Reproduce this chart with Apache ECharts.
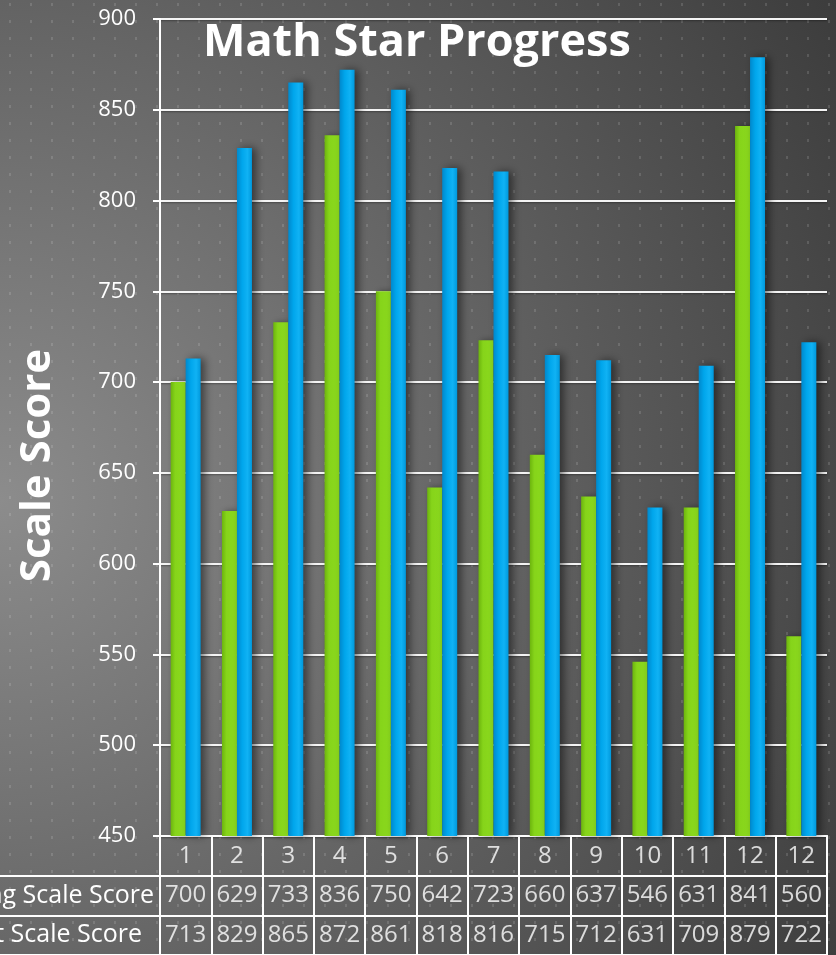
<!DOCTYPE html>
<html>
<head>
<meta charset="utf-8">
<script src="https://cdn.jsdelivr.net/npm/echarts@6/dist/echarts.min.js"></script>
<style>
html,body{margin:0;padding:0;background:#606060;}
#chart{width:836px;height:955px;}
</style>
</head>
<body>
<div id="chart"></div>
<script>
// ---- data ----
const categories = ['1','2','3','4','5','6','7','8','9','10','11','12','12'];
const beginningScores = [700,629,733,836,750,642,723,660,637,546,631,841,560];
const currentScores = [713,829,865,872,861,818,816,715,712,631,709,879,722];
const seriesNames = ['Beginning Scale Score', 'Current Scale Score'];
const tableRowLabels = ['', 'Beginning Scale Score', 'Current Scale Score'];
const yMin = 450, yMax = 900, yStep = 50;
const chartTitle = 'Math Star Progress';
const yAxisTitle = 'Scale Score';

// ---- layout ----
const W = 836, H = 955;
const plotLeft = 160, plotRight = 9, plotTop = 19, plotBottomY = 836;
const tableTop = plotBottomY, tableH = H - plotBottomY, rowH = tableH / 3;
const FONT = '"Open Sans", "Noto Sans", sans-serif';
const TABLE_FS = 24;
const ROWLABEL_FS = 25;
const white = '#ffffff';

// dotted pattern tile
const tile = document.createElement('canvas');
tile.width = 21; tile.height = 17;
const tctx = tile.getContext('2d');
tctx.fillStyle = 'rgba(255,255,255,0.13)';
tctx.fillRect(9, 3, 2, 3);

// table cells (scatter points carrying text)
const tableCells = [];
categories.forEach((c, i) => tableCells.push([i, 0, c]));
beginningScores.forEach((v, i) => tableCells.push([i, 1, String(v)]));
currentScores.forEach((v, i) => tableCells.push([i, 2, String(v)]));

const chart = echarts.init(document.getElementById('chart'), null, {renderer: 'canvas'});

const lineWhite = {color: white, width: 2};

const option = {
  animation: false,
  backgroundColor: '#606060',
  textStyle: {fontFamily: FONT},
  title: {
    text: chartTitle,
    left: 198, top: 16,
    textStyle: {color: white, fontSize: 45, fontWeight: 'bold', fontFamily: FONT}
  },
  graphic: [
    {type: 'rect', z: -10, silent: true,
     shape: {x: 0, y: 0, width: W, height: H},
     style: {fill: {type: 'radial', x: 0, y: 500, r: 1025, global: true,
       colorStops: [{offset: 0, color: '#8c8c8c'}, {offset: 1, color: '#383838'}]}}},
    {type: 'rect', z: -9, silent: true,
     shape: {x: 0, y: 0, width: W, height: H},
     style: {fill: {image: tile, repeat: 'repeat'}}}
  ],
  grid: [
    {left: plotLeft, right: plotRight, top: plotTop, bottom: H - plotBottomY,
     outerBoundsMode: 'none', containLabel: false},
    {left: plotLeft, right: plotRight, top: tableTop, height: tableH,
     outerBoundsMode: 'none', containLabel: false},
    {left: -100, width: plotLeft + 100, top: tableTop + rowH, height: rowH * 2,
     outerBoundsMode: 'none', containLabel: false}
  ],
  xAxis: [
    {type: 'category', gridIndex: 0, data: categories,
     axisLine: {show: true, lineStyle: lineWhite},
     axisTick: {show: false}, axisLabel: {show: false}, splitLine: {show: false}},
    {type: 'category', gridIndex: 1, data: categories, position: 'top',
     axisLine: {show: true, lineStyle: lineWhite},
     axisTick: {show: false}, axisLabel: {show: false},
     splitLine: {show: true, lineStyle: lineWhite}},
    {type: 'category', gridIndex: 2, data: [''],
     axisLine: {show: false}, axisTick: {show: false}, axisLabel: {show: false},
     splitLine: {show: false}}
  ],
  yAxis: [
    {type: 'value', gridIndex: 0, min: yMin, max: yMax, interval: yStep,
     name: yAxisTitle, nameLocation: 'middle', nameGap: 101, nameRotate: 90,
     nameTextStyle: {color: white, fontSize: 42, fontWeight: 'bold', fontFamily: FONT,
       padding: [0, 76, 0, 0]},
     axisLine: {show: true, lineStyle: lineWhite},
     axisTick: {show: true, length: 7, lineStyle: lineWhite},
     axisLabel: {color: white, fontSize: 22, margin: 24, fontFamily: FONT},
     splitLine: {show: true, lineStyle: {color: '#f4f4f4', width: 2,
       shadowColor: 'rgba(0,0,0,0.35)', shadowBlur: 2, shadowOffsetY: 1}}},
    {type: 'category', gridIndex: 1, data: tableRowLabels, inverse: true,
     axisLine: {show: true, lineStyle: lineWhite},
     axisTick: {show: false},
     axisLabel: {show: true, interval: 0, align: 'right', margin: 6,
       color: white, fontSize: ROWLABEL_FS, fontFamily: FONT,
       formatter: (v, i) => i === 2 ? '{b|' + v + '}' : v,
       rich: {b: {color: white, fontSize: ROWLABEL_FS, fontFamily: FONT, padding: [0, 12, 0, 0]}}},
     splitLine: {show: true, lineStyle: lineWhite}},
    {type: 'category', gridIndex: 2, data: ['a', 'b'], inverse: true,
     axisLine: {show: false}, axisTick: {show: false}, axisLabel: {show: false},
     splitLine: {show: true, lineStyle: lineWhite}}
  ],
  series: [
    {name: seriesNames[0], type: 'bar', xAxisIndex: 0, yAxisIndex: 0,
     data: beginningScores, barWidth: 15, barGap: '0%',
     itemStyle: {
       color: new echarts.graphic.LinearGradient(0, 0, 1, 0, [
         {offset: 0, color: '#6cb40e'}, {offset: 0.3, color: '#86d41a'},
         {offset: 1, color: '#8cda1e'}]),
       shadowColor: 'rgba(0,0,0,0.4)', shadowBlur: 6, shadowOffsetX: 3}},
    {name: seriesNames[1], type: 'bar', xAxisIndex: 0, yAxisIndex: 0,
     data: currentScores, barWidth: 15, barGap: '0%',
     itemStyle: {
       color: new echarts.graphic.LinearGradient(0, 0, 1, 0, [
         {offset: 0, color: '#0088cc'}, {offset: 0.35, color: '#00a6ec'},
         {offset: 0.7, color: '#10b2f4'}, {offset: 1, color: '#0098dc'}]),
       shadowColor: 'rgba(0,0,0,0.5)', shadowBlur: 8, shadowOffsetX: 4}},
    {type: 'scatter', xAxisIndex: 1, yAxisIndex: 1, data: tableCells,
     symbolSize: 1, itemStyle: {color: 'rgba(0,0,0,0)'}, silent: true,
     label: {show: true, position: 'inside', color: white, fontSize: TABLE_FS,
       fontFamily: FONT, formatter: p => p.value[2]}}
  ]
};
chart.setOption(option);
</script>
</body>
</html>
